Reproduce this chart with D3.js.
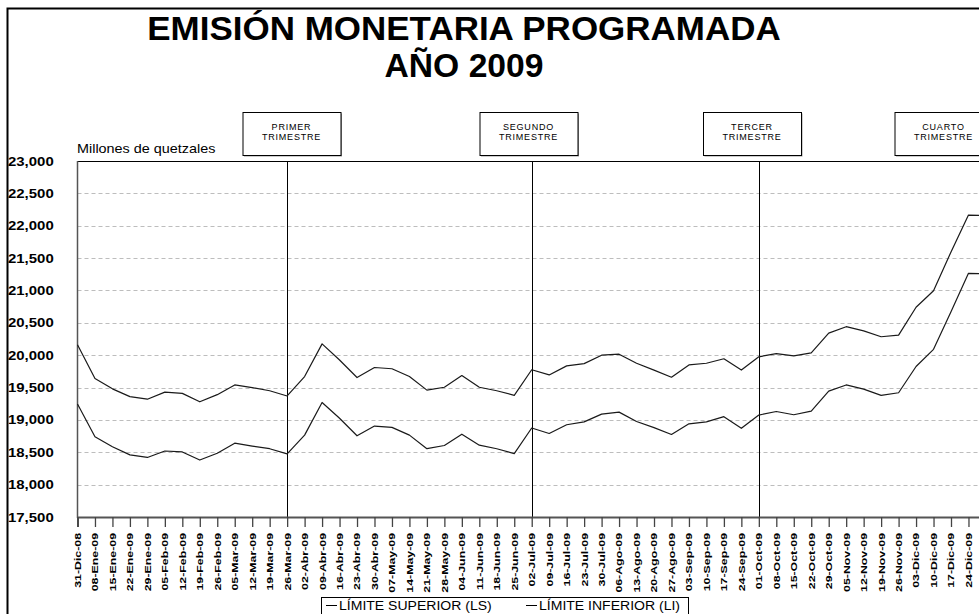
<!DOCTYPE html>
<html>
<head>
<meta charset="utf-8">
<script src="https://cdn.jsdelivr.net/npm/d3@7"></script>
<style>
  html, body { margin: 0; padding: 0; background: #fff; }
  svg { display: block; font-family: Arial, "Liberation Sans", sans-serif; }
</style>
</head>
<body>
<svg id="chart" width="979" height="614"></svg>
<script>
// ---------------- DATA ----------------
const categories = [
  "31-Dic-08","08-Ene-09","15-Ene-09","22-Ene-09","29-Ene-09","05-Feb-09","12-Feb-09","19-Feb-09","26-Feb-09",
  "05-Mar-09","12-Mar-09","19-Mar-09","26-Mar-09","02-Abr-09","09-Abr-09","16-Abr-09","23-Abr-09","30-Abr-09",
  "07-May-09","14-May-09","21-May-09","28-May-09","04-Jun-09","11-Jun-09","18-Jun-09","25-Jun-09","02-Jul-09",
  "09-Jul-09","16-Jul-09","23-Jul-09","30-Jul-09","06-Ago-09","13-Ago-09","20-Ago-09","27-Ago-09","03-Sep-09",
  "10-Sep-09","17-Sep-09","24-Sep-09","01-Oct-09","08-Oct-09","15-Oct-09","22-Oct-09","29-Oct-09","05-Nov-09",
  "12-Nov-09","19-Nov-09","26-Nov-09","03-Dic-09","10-Dic-09","17-Dic-09","24-Dic-09","31-Dic-09"
];
const limiteSuperior = [
  20160,19640,19480,19360,19320,19430,19410,19280,19390,19540,19500,19450,19370,19670,20175,19925,19655,19810,
  19790,19670,19460,19505,19685,19505,19450,19380,19775,19695,19835,19870,20000,20015,19875,19770,19660,19850,
  19875,19945,19770,19975,20025,19990,20035,20340,20440,20375,20285,20310,20740,20995,21595,22165,22155
];
const limiteInferior = [
  19245,18740,18585,18460,18420,18520,18505,18380,18485,18640,18595,18555,18475,18765,19270,19025,18755,18905,
  18885,18765,18555,18605,18780,18610,18555,18480,18875,18790,18925,18970,19090,19120,18975,18880,18775,18940,
  18970,19050,18870,19075,19130,19080,19135,19445,19540,19475,19380,19420,19825,20090,20670,21265,21255
];
const yTicks = [17500,18000,18500,19000,19500,20000,20500,21000,21500,22000,22500,23000];
const quarterStarts = ["26-Mar-09","02-Jul-09","01-Oct-09"];
const quarterLabels = [["PRIMER","TRIMESTRE"],["SEGUNDO","TRIMESTRE"],["TERCER","TRIMESTRE"],["CUARTO","TRIMESTRE"]];
const seriesNames = ["LÍMITE SUPERIOR (LS)","LÍMITE INFERIOR (LI)"];
const titleLines = ["EMISIÓN MONETARIA PROGRAMADA","AÑO 2009"];
const yUnit = "Millones de quetzales";

// ---------------- LAYOUT ----------------
const W = 979;
const plot = { left: 77.5, top: 161, bottom: 517, right: 979 };
const step = 17.47;
const quarterBoxCenters = [291.5, 528.5, 752, 943.5];
const legendStarts = [326, 526];

const svg = d3.select("#chart");

const x = d3.scalePoint().domain(categories)
  .range([plot.left, plot.left + step * (categories.length - 1)]);
const y = d3.scaleLinear().domain([17500, 23000]).range([plot.bottom, plot.top]);

function sText(g, tx, ty, str, opts) {
  const t = g.append("text")
    .attr("transform", `translate(${tx},${ty}) scale(${opts.sx || 1},1)`)
    .attr("text-anchor", opts.anchor || "start")
    .style("font-size", opts.size + "px")
    .style("font-weight", opts.weight || "normal")
    .attr("fill", opts.fill || "#000")
    .text(str);
  if (opts.ls) t.style("letter-spacing", opts.ls + "px");
  if (opts.dy) t.attr("dy", opts.dy);
  return t;
}

// outer frame (cropped at right/bottom)
svg.append("path").attr("d", "M7.5,614 V8.5 H979")
  .attr("fill", "none").attr("stroke", "#000").attr("stroke-width", 2);

// title
const cx = 464;
sText(svg, cx, 40, titleLines[0], { size: 33, weight: "bold", sx: 1.06, anchor: "middle" });
sText(svg, cx, 77, titleLines[1], { size: 33, weight: "bold", sx: 1.02, anchor: "middle" });

// gridlines
svg.append("g").selectAll("line")
  .data(yTicks.filter(v => v > 17500 && v < 23000))
  .join("line")
  .attr("x1", plot.left).attr("x2", plot.right)
  .attr("y1", d => Math.round(y(d)) + 0.5).attr("y2", d => Math.round(y(d)) + 0.5)
  .attr("stroke", "#bdbdbd").attr("stroke-width", 1).attr("stroke-dasharray", "4,3");

// plot top border
svg.append("line").attr("x1", plot.left).attr("x2", plot.right)
  .attr("y1", plot.top + 0.5).attr("y2", plot.top + 0.5).attr("stroke", "#000");

// quarter dividers
svg.append("g").selectAll("line").data(quarterStarts).join("line")
  .attr("x1", d => Math.round(x(d)) + 0.5).attr("x2", d => Math.round(x(d)) + 0.5)
  .attr("y1", plot.top).attr("y2", plot.bottom)
  .attr("stroke", "#000").attr("stroke-width", 1);

// y axis (left line)
svg.append("line").attr("x1", plot.left).attr("x2", plot.left)
  .attr("y1", plot.top).attr("y2", plot.bottom + 1)
  .attr("stroke", "#555").attr("stroke-width", 1.5);

// y labels
const yl = svg.append("g");
yTicks.forEach(v => {
  sText(yl, 8, y(v), d3.format(",")(v), { size: 13, weight: "bold", sx: 1.15, dy: "0.35em" });
});
sText(svg, 77, 152.5, yUnit, { size: 12, sx: 1.2 });

// x axis
const xAxis = d3.axisBottom(x).tickSize(10).tickFormat("");
const gx = svg.append("g").attr("transform", `translate(0,${plot.bottom})`).call(xAxis);
gx.select(".domain").attr("stroke", "#555").attr("stroke-width", 2);
gx.selectAll(".tick line").attr("stroke", "#444").attr("stroke-width", 1.3);
const xl = svg.append("g");
categories.filter(c => x(c) < W).forEach(c => {
  xl.append("text")
    .attr("transform", `translate(${x(c)},533) rotate(-90) scale(1.3,1)`)
    .attr("text-anchor", "end").attr("dy", "0.36em")
    .style("font-size", "9.5px").style("font-weight", "bold")
    .text(c);
});

// series lines
const line = d3.line().x((d, i) => x(categories[i])).y(d => y(d));
[limiteSuperior, limiteInferior].forEach(s => {
  svg.append("path").datum(s).attr("d", line)
    .attr("fill", "none").attr("stroke", "#1a1a1a").attr("stroke-width", 1.2)
    .attr("stroke-linejoin", "round");
});

// quarter boxes
quarterLabels.forEach((lab, i) => {
  const bx = quarterBoxCenters[i] - 49, by = 112, bw = 98, bh = 43;
  const g = svg.append("g");
  g.append("rect").attr("x", bx + 1.5).attr("y", by + 1.5).attr("width", bw).attr("height", bh)
    .attr("fill", "#999");
  g.append("rect").attr("x", bx + 0.5).attr("y", by + 0.5).attr("width", bw).attr("height", bh)
    .attr("fill", "#fff").attr("stroke", "#000");
  sText(g, quarterBoxCenters[i], 130, lab[0], { size: 9, anchor: "middle", ls: 0.8 });
  sText(g, quarterBoxCenters[i], 140, lab[1], { size: 9, anchor: "middle", ls: 0.8 });
});

// legend
svg.append("rect").attr("x", 321.5).attr("y", 597.5).attr("width", 367).attr("height", 30)
  .attr("fill", "#fff").attr("stroke", "#000");
seriesNames.forEach((n, i) => {
  svg.append("line").attr("x1", legendStarts[i]).attr("x2", legendStarts[i] + 11)
    .attr("y1", 605.5).attr("y2", 605.5).attr("stroke", "#000").attr("stroke-width", 1);
  sText(svg, legendStarts[i] + 13, 610, n, { size: 13, sx: 1.08 });
});
</script>
</body>
</html>
